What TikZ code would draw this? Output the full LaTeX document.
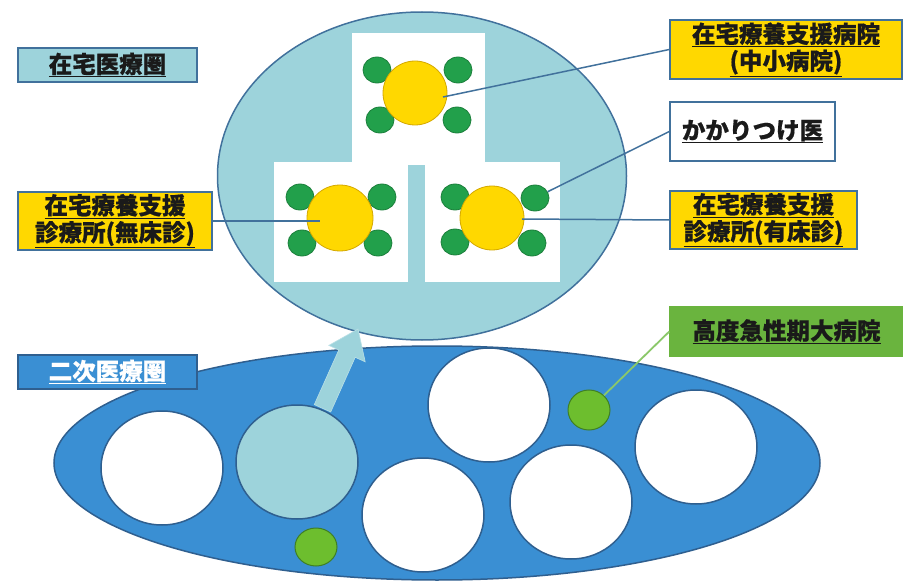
\documentclass[tikz,border=0pt]{standalone}
\usepackage{fontspec}
\newfontfamily\cjk{Noto Sans CJK JP}[FakeBold=0.6]
\usetikzlibrary{shapes.geometric}
\definecolor{tealf}{HTML}{9DD3DB}
\definecolor{edgeblue}{HTML}{41719C}
\definecolor{bigblue}{HTML}{3A8FD3}
\definecolor{circline}{HTML}{2F5F8F}
\definecolor{yel}{HTML}{FFD800}
\definecolor{yelline}{HTML}{D4A800}
\definecolor{dgreen}{HTML}{22A04B}
\definecolor{dgreenline}{HTML}{1B7F3B}
\definecolor{lgreen}{HTML}{6DBE2E}
\definecolor{lgreenline}{HTML}{3F7F25}
\definecolor{boxgreen}{HTML}{6AB43E}
\definecolor{gline}{HTML}{8BC86A}
\definecolor{txt}{HTML}{1A1A1A}
\begin{document}
\begin{tikzpicture}[x=1pt,y=-1pt,
  lbl/.style={draw=edgeblue, line width=1.4pt, inner sep=0pt, align=center,
    font=\cjk\bfseries\fontsize{23.5}{27}\selectfont, text=txt},
  yelbox/.style={lbl, fill=yel},
  dot/.style={ellipse, inner sep=0pt, minimum width=28pt, minimum height=26pt,
    fill=dgreen, draw=dgreenline, line width=0.8pt},
  yc/.style={circle, inner sep=0pt, fill=yel, draw=yelline, line width=0.8pt},
  wc/.style={ellipse, inner sep=0pt, minimum width=122pt, minimum height=114pt,
    fill=white, draw=circline, line width=1.5pt},
  sg/.style={ellipse, inner sep=0pt, fill=lgreen, draw=lgreenline, line width=1pt},
  conn/.style={draw=edgeblue, line width=1.5pt},
  gconn/.style={draw=gline, line width=1.8pt}]
\useasboundingbox (0,0) rectangle (903,583);
\fill[white] (0,0) rectangle (903,583);

% top zone
\node[ellipse, minimum width=409pt, minimum height=328pt, fill=tealf,
  draw=edgeblue, line width=1.5pt] (zone) at (422,176) {};
\fill[white] (352,33) rectangle (485,165);
\fill[white] (274,162) rectangle (408,282);
\fill[white] (425,162) rectangle (560,282);

% green dots
\node[dot] (gt1) at (377,70) {};
\node[dot] (gt2) at (380,120) {};
\node[dot] (gt3) at (458,70) {};
\node[dot] (gt4) at (457,120) {};
\node[dot] (gl1) at (300,197) {};
\node[dot] (gl2) at (302,243) {};
\node[dot] (gl3) at (382,197) {};
\node[dot] (gl4) at (378,243) {};
\node[dot] (gr1) at (455,197) {};
\node[dot] (gr2) at (455,242) {};
\node[dot] (gr3) at (535,198) {};
\node[dot] (gr4) at (532,243) {};

% yellow
\node[yc, minimum size=64pt] (yt) at (415,93) {};
\node[yc, minimum size=66pt] (yl) at (340,218) {};
\node[yc, minimum size=64pt] (yr) at (492,218) {};

% big ellipse
\node[ellipse, minimum width=766pt, minimum height=234pt, fill=bigblue,
  draw=circline, line width=1.5pt] (region) at (437,463) {};

% arrow
\fill[tealf, draw=tealf!70!white, line width=0.6pt]
  (314.3,404.6) -- (338.8,349.9) -- (328.8,345.4) -- (358,329)
  -- (365.2,361.8) -- (355.2,357.3) -- (330.7,412) -- cycle;

% circles
\node[wc] (w1) at (162,468) {};
\node[wc, fill=tealf] (tc) at (297,462) {};
\node[wc] (w3) at (423,515) {};
\node[wc] (w4) at (489,405) {};
\node[wc] (w5) at (571,502) {};
\node[wc] (w6) at (696,447) {};
\node[sg, minimum width=42pt, minimum height=38pt] (sg1) at (316,547) {};
\node[sg, minimum width=42pt, minimum height=40pt] (sg2) at (589,410) {};

% labels
\node[lbl, fill=tealf, minimum width=179pt, minimum height=34pt] (zaitaku) at (107.5,65) {\underline{在宅医療圏}};
\node[yelbox, minimum width=194pt, minimum height=58pt] (mushou) at (115,221) {\underline{在宅療養支援}\\\underline{診療所(無床診)}};
\node[yelbox, minimum width=232pt, minimum height=59pt] (byouin) at (786,49.5) {\underline{在宅療養支援病院}\\\underline{(中小病院)}};
\node[lbl, fill=white, minimum width=165pt, minimum height=59pt] (kakari) at (752.5,131.5) {\underline{かかりつけ医}};
\node[yelbox, minimum width=187pt, minimum height=58pt] (yushou) at (763.5,220) {\underline{在宅療養支援}\\\underline{診療所(有床診)}};
\node[lbl, fill=boxgreen, draw=boxgreen, minimum width=233pt, minimum height=49pt] (koudo) at (786.5,331.5) {\underline{高度急性期大病院}};
\node[lbl, fill=bigblue, draw=circline, text=white, minimum width=179pt, minimum height=34pt] (niji) at (107.5,372) {\underline{二次医療圏}};

% connectors
\coordinate (e1) at (443,97);
\coordinate (e2) at (320,221);
\coordinate (e3) at (522,219);
\draw[conn] (byouin.west) -- (e1);
\draw[conn] (kakari.west) -- (gr3);
\draw[conn] (yushou.west) -- (e3);
\draw[conn] (mushou.east) -- (e2);
\draw[gconn] (koudo.west) -- (sg2);
\end{tikzpicture}
\end{document}
